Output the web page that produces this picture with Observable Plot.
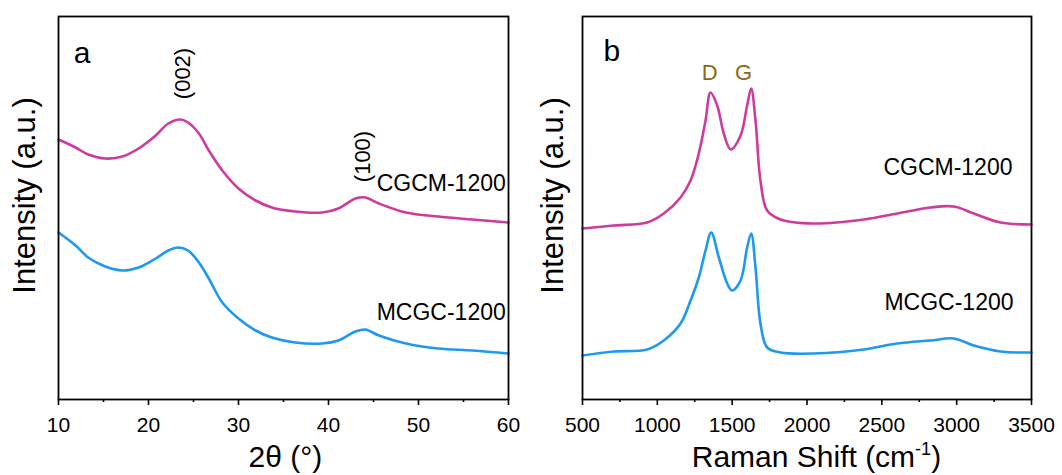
<!DOCTYPE html>
<html><head><meta charset="utf-8">
<script src="https://cdn.jsdelivr.net/npm/d3@7"></script>
<script src="https://cdn.jsdelivr.net/npm/@observablehq/plot@0.6"></script>
<style>
body{margin:0;background:#fff}
#wrap{display:flex;width:1062px;height:475px;overflow:hidden}
</style>
</head><body><div id="wrap"></div>
<script>
// ---- Panel a: XRD ----
const xrdThetaCGCM = [10,11.9,13.3,15.2,17.1,18.9,20.8,22.2,23.6,24.4,25.6,26.7,28.2,30,31.9,33.7,36.3,39.3,41.1,43,44.1,45.6,48.6,52.2,56,60];
const xrdCGCM      = [260,252,245,241,243,251,264,276,280,277,266,249,229,211,199,192,188,187,191,201,202,196,187,183,180,177];
const xrdThetaMCGC = [10,11.9,13.3,15.2,17.1,18.9,20.8,22.2,23.3,24.4,25.6,26.7,28.2,30,31.9,33.7,36.3,39.3,41.1,43,44.1,45.6,48.6,52.2,56,60];
const xrdMCGC      = [167,154,142,133,129,132,141,149,152,149,137,121,97,81,69,62,57,56,59,68,70,64,56,51,49,46];
const xrdTicks = [10,20,30,40,50,60];
const xrdMinorTicks = [15,25,35,45,55];

// ---- Panel b: Raman ----
const ramanShiftCGCM = [500,709,932,1043,1155,1222,1277,1322,1355,1400,1444,1490,1556,1600,1627,1656,1689,1734,1823,2045,2380,2603,2825,2981,3115,3293,3500];
const ramanCGCM      = [171,174,177,186,202,219,246,279,307,294,266,250,264,294,311,279,219,189,180,176,180,186,192,193,186,177,175];
const ramanShiftMCGC = [500,709,932,1043,1155,1222,1277,1322,1360,1411,1467,1500,1556,1600,1627,1656,1689,1734,1823,2045,2380,2603,2825,2981,3115,3293,3500];
const ramanMCGC      = [44,48,50,59,76,99,122,149,167,142,116,109,119,152,166,132,76,52,47,46,50,56,59,61,54,48,47];
const ramanTicks = [500,1000,1500,2000,2500,3000,3500];
const ramanMinorTicks = [750,1250,1750,2250,2750,3250];

const sampleNames = ["CGCM-1200","MCGC-1200"];
const colors = {"CGCM-1200":"#cf3a9f","MCGC-1200":"#1d99f0"};
const bandColor = "#8a6a14";
const font = "'Liberation Sans', Arial, sans-serif";

const rows = (xs, ys, s) => xs.map((x,i)=>({x, y: ys[i], s}));
const xrdRows = [...rows(xrdThetaCGCM, xrdCGCM, "CGCM-1200"), ...rows(xrdThetaMCGC, xrdMCGC, "MCGC-1200")];
const ramanRows = [...rows(ramanShiftCGCM, ramanCGCM, "CGCM-1200"), ...rows(ramanShiftMCGC, ramanMCGC, "MCGC-1200")];

const common = {
  height: 475, marginTop: 16, marginBottom: 76,
  y: {domain: [0, 383], axis: null},
  color: {domain: sampleNames, range: sampleNames.map(s=>colors[s])},
  style: {fontFamily: font, fontSize: "21px", color: "#000", background: "#fff"}
};
const lbl = (t, o) => Plot.text([t], {text: d=>d, fontFamily: font, fill: "#000", ...o});

const plotA = Plot.plot({
  ...common, width: 531, marginLeft: 58, marginRight: 23,
  x: {domain: [10, 60]},
  marks: [
    Plot.line(xrdRows, {x:"x", y:"y", z:"s", stroke:"s", strokeWidth:2.6, curve:"catmull-rom"}),
    Plot.frame({stroke:"#000", strokeWidth:1.8}),
    Plot.axisX(xrdMinorTicks, {tickSize:3, strokeWidth:1.6, tickFormat:()=>"", label:null}),
    Plot.axisX(xrdTicks, {tickSize:6, tickPadding:12, strokeWidth:1.6, label:null, fontSize:21}),
    lbl("a", {x:11.7, y:346, fontSize:30, textAnchor:"start"}),
    lbl("(002)", {x:23.8, y:326, fontSize:22, rotate:-90}),
    lbl("(100)", {x:43.8, y:243, fontSize:22, rotate:-90}),
    lbl("CGCM-1200", {x:59.7, y:216, fontSize:23, textAnchor:"end"}),
    lbl("MCGC-1200", {x:59.7, y:87, fontSize:23, textAnchor:"end"}),
    lbl("Intensity (a.u.)", {x:6.3, y:204, fontSize:31, rotate:-90}),
    lbl("2θ (°)", {x:35.2, y:-58, fontSize:30})
  ]
});

const plotB = Plot.plot({
  ...common, width: 531, marginLeft: 51, marginRight: 31,
  x: {domain: [500, 3500]},
  marks: [
    Plot.line(ramanRows, {x:"x", y:"y", z:"s", stroke:"s", strokeWidth:2.6, curve:"catmull-rom"}),
    Plot.frame({stroke:"#000", strokeWidth:1.8}),
    Plot.axisX(ramanMinorTicks, {tickSize:3, strokeWidth:1.6, tickFormat:()=>"", label:null}),
    Plot.axisX(ramanTicks, {tickSize:6, tickPadding:12, strokeWidth:1.6, label:null, fontSize:21, tickFormat:d=>String(d)}),
    lbl("b", {x:640, y:348, fontSize:30, textAnchor:"start"}),
    lbl("D", {x:1349, y:327, fontSize:22, fill:bandColor}),
    lbl("G", {x:1576, y:327, fontSize:22, fill:bandColor}),
    lbl("CGCM-1200", {x:3373, y:232, fontSize:23, textAnchor:"end"}),
    lbl("MCGC-1200", {x:3380, y:97, fontSize:23, textAnchor:"end"}),
    lbl("Intensity (a.u.)", {x:306, y:204, fontSize:31, rotate:-90}),
    lbl("Raman Shift (cm-1)", {x:2063, y:-58, fontSize:30})
  ]
});

// superscript for cm-1
for (const t of plotB.querySelectorAll("text")) {
  if (t.textContent === "Raman Shift (cm-1)") {
    t.textContent = "Raman Shift (cm";
    const ns = "http://www.w3.org/2000/svg";
    const sup = document.createElementNS(ns, "tspan");
    sup.setAttribute("font-size", "18");
    sup.setAttribute("dy", "-12");
    sup.textContent = "-1";
    const close = document.createElementNS(ns, "tspan");
    close.setAttribute("dy", "12");
    close.textContent = ")";
    t.appendChild(sup); t.appendChild(close);
  }
}

document.getElementById("wrap").append(plotA, plotB);
</script>
</body></html>
